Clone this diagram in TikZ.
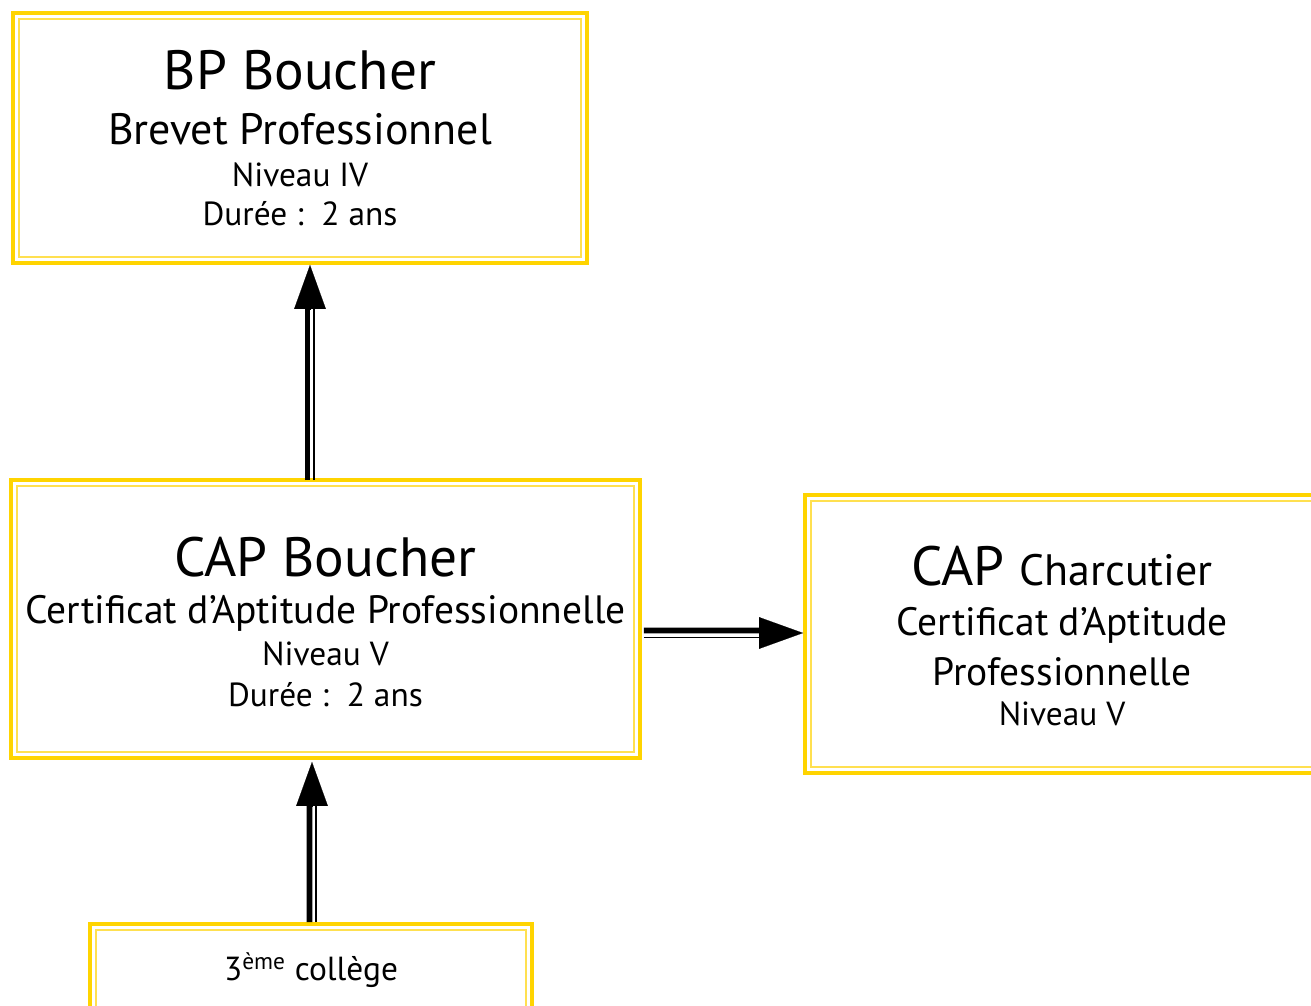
\documentclass[tikz,border=0pt]{standalone}
\usepackage{fontspec}
\setmainfont{PT Sans}
\usetikzlibrary{arrows.meta}
\definecolor{jaune}{RGB}{255,212,0}
\definecolor{jaunepale}{RGB}{255,224,80}
\newcommand{\grand}{\fontsize{31.5}{36}\selectfont}
\newcommand{\assezgrand}{\fontsize{25}{30}\selectfont}
\newcommand{\moyen}{\fontsize{22.5}{28}\selectfont}
\tikzset{
	diplome/.style = {draw=jaune, line width=2.3pt, outer sep=0pt, inner sep=0pt},
	texte/.style = {align=center, inner sep=0pt, font=\fontsize{19}{30}\selectfont},
	cadre/.style = {draw=jaunepale, line width=1pt},
	tige/.style = {line width=3.4pt},
	fil/.style = {line width=1.1pt},
	pointe/.style = {line width=0.1pt, -{Triangle[length=25pt, width=18pt]}}
}

\begin{document}
\begin{tikzpicture}[x=0.02cm, y=-0.02cm]
\useasboundingbox (0,0) rectangle (1311,1006);

% NODES
% formations
\node (bp) [diplome, minimum width=11.48cm, minimum height=5cm] at (300,138) {};
\node (bp-texte) [texte] at (300,138)
 {\grand BP Boucher\\[1.7pt]\assezgrand Brevet Professionnel\\[-6.2pt]Niveau IV\\[-7.9pt]Durée :\ \ 2 ans};
\node (cap) [diplome, minimum width=12.58cm, minimum height=5.56cm] at (325.5,619) {};
\node (cap-texte) [texte] at (325.5,622)
 {\grand CAP Boucher\\[-3.4pt]\moyen Certificat d'Aptitude Professionnelle\\[-5.7pt]Niveau V\\[-6.8pt]Durée :\ \ 2 ans};
\node (charc) [diplome, minimum width=10.28cm, minimum height=5.56cm] at (1062,634) {};
\node (charc-texte) [texte] at (1062,636)
 {\grand CAP \assezgrand Charcutier\\[-1.7pt]\moyen Certificat d'Aptitude\\[-1.1pt]\moyen Professionnelle\\[-7.4pt]Niveau V};
% entree
\node (college) [diplome, minimum width=8.84cm, minimum height=1.84cm] at (311,970) {};
\node (college-texte) [texte] at (311,970) {3\textsuperscript{ème} collège};

% double cadre
\foreach \n in {bp,cap,charc,college}
 \draw [cadre] ([shift={(6,6)}]\n.north west) rectangle ([shift={(-6,-6)}]\n.south east);

%CONNECTIONS
% cap -> bp
\draw [tige] ([shift={(-18,0)}]cap.north) -- ([shift={(7.5,30)}]bp.south);
\draw [fil] ([shift={(-11.5,0)}]cap.north) -- ([shift={(14,30)}]bp.south);
\draw [pointe] ([shift={(10,46)}]bp.south) -- ([shift={(10,2)}]bp.south);
% college -> cap
\draw [tige] ([shift={(-1.5,-2)}]college.north) -- ([shift={(-16,30)}]cap.south);
\draw [fil] ([shift={(5,-2)}]college.north) -- ([shift={(-9.5,30)}]cap.south);
\draw [pointe] ([shift={(-13.5,48)}]cap.south) -- ([shift={(-13.5,4)}]cap.south);
% cap -> charc
\draw [tige] ([shift={(4,11.5)}]cap.east) -- ([shift={(-30,-3.5)}]charc.west);
\draw [fil] ([shift={(4,18.5)}]cap.east) -- ([shift={(-30,3.5)}]charc.west);
\draw [pointe] ([shift={(-46,-1)}]charc.west) -- ([shift={(-2,-1)}]charc.west);

\end{tikzpicture}
\end{document}
